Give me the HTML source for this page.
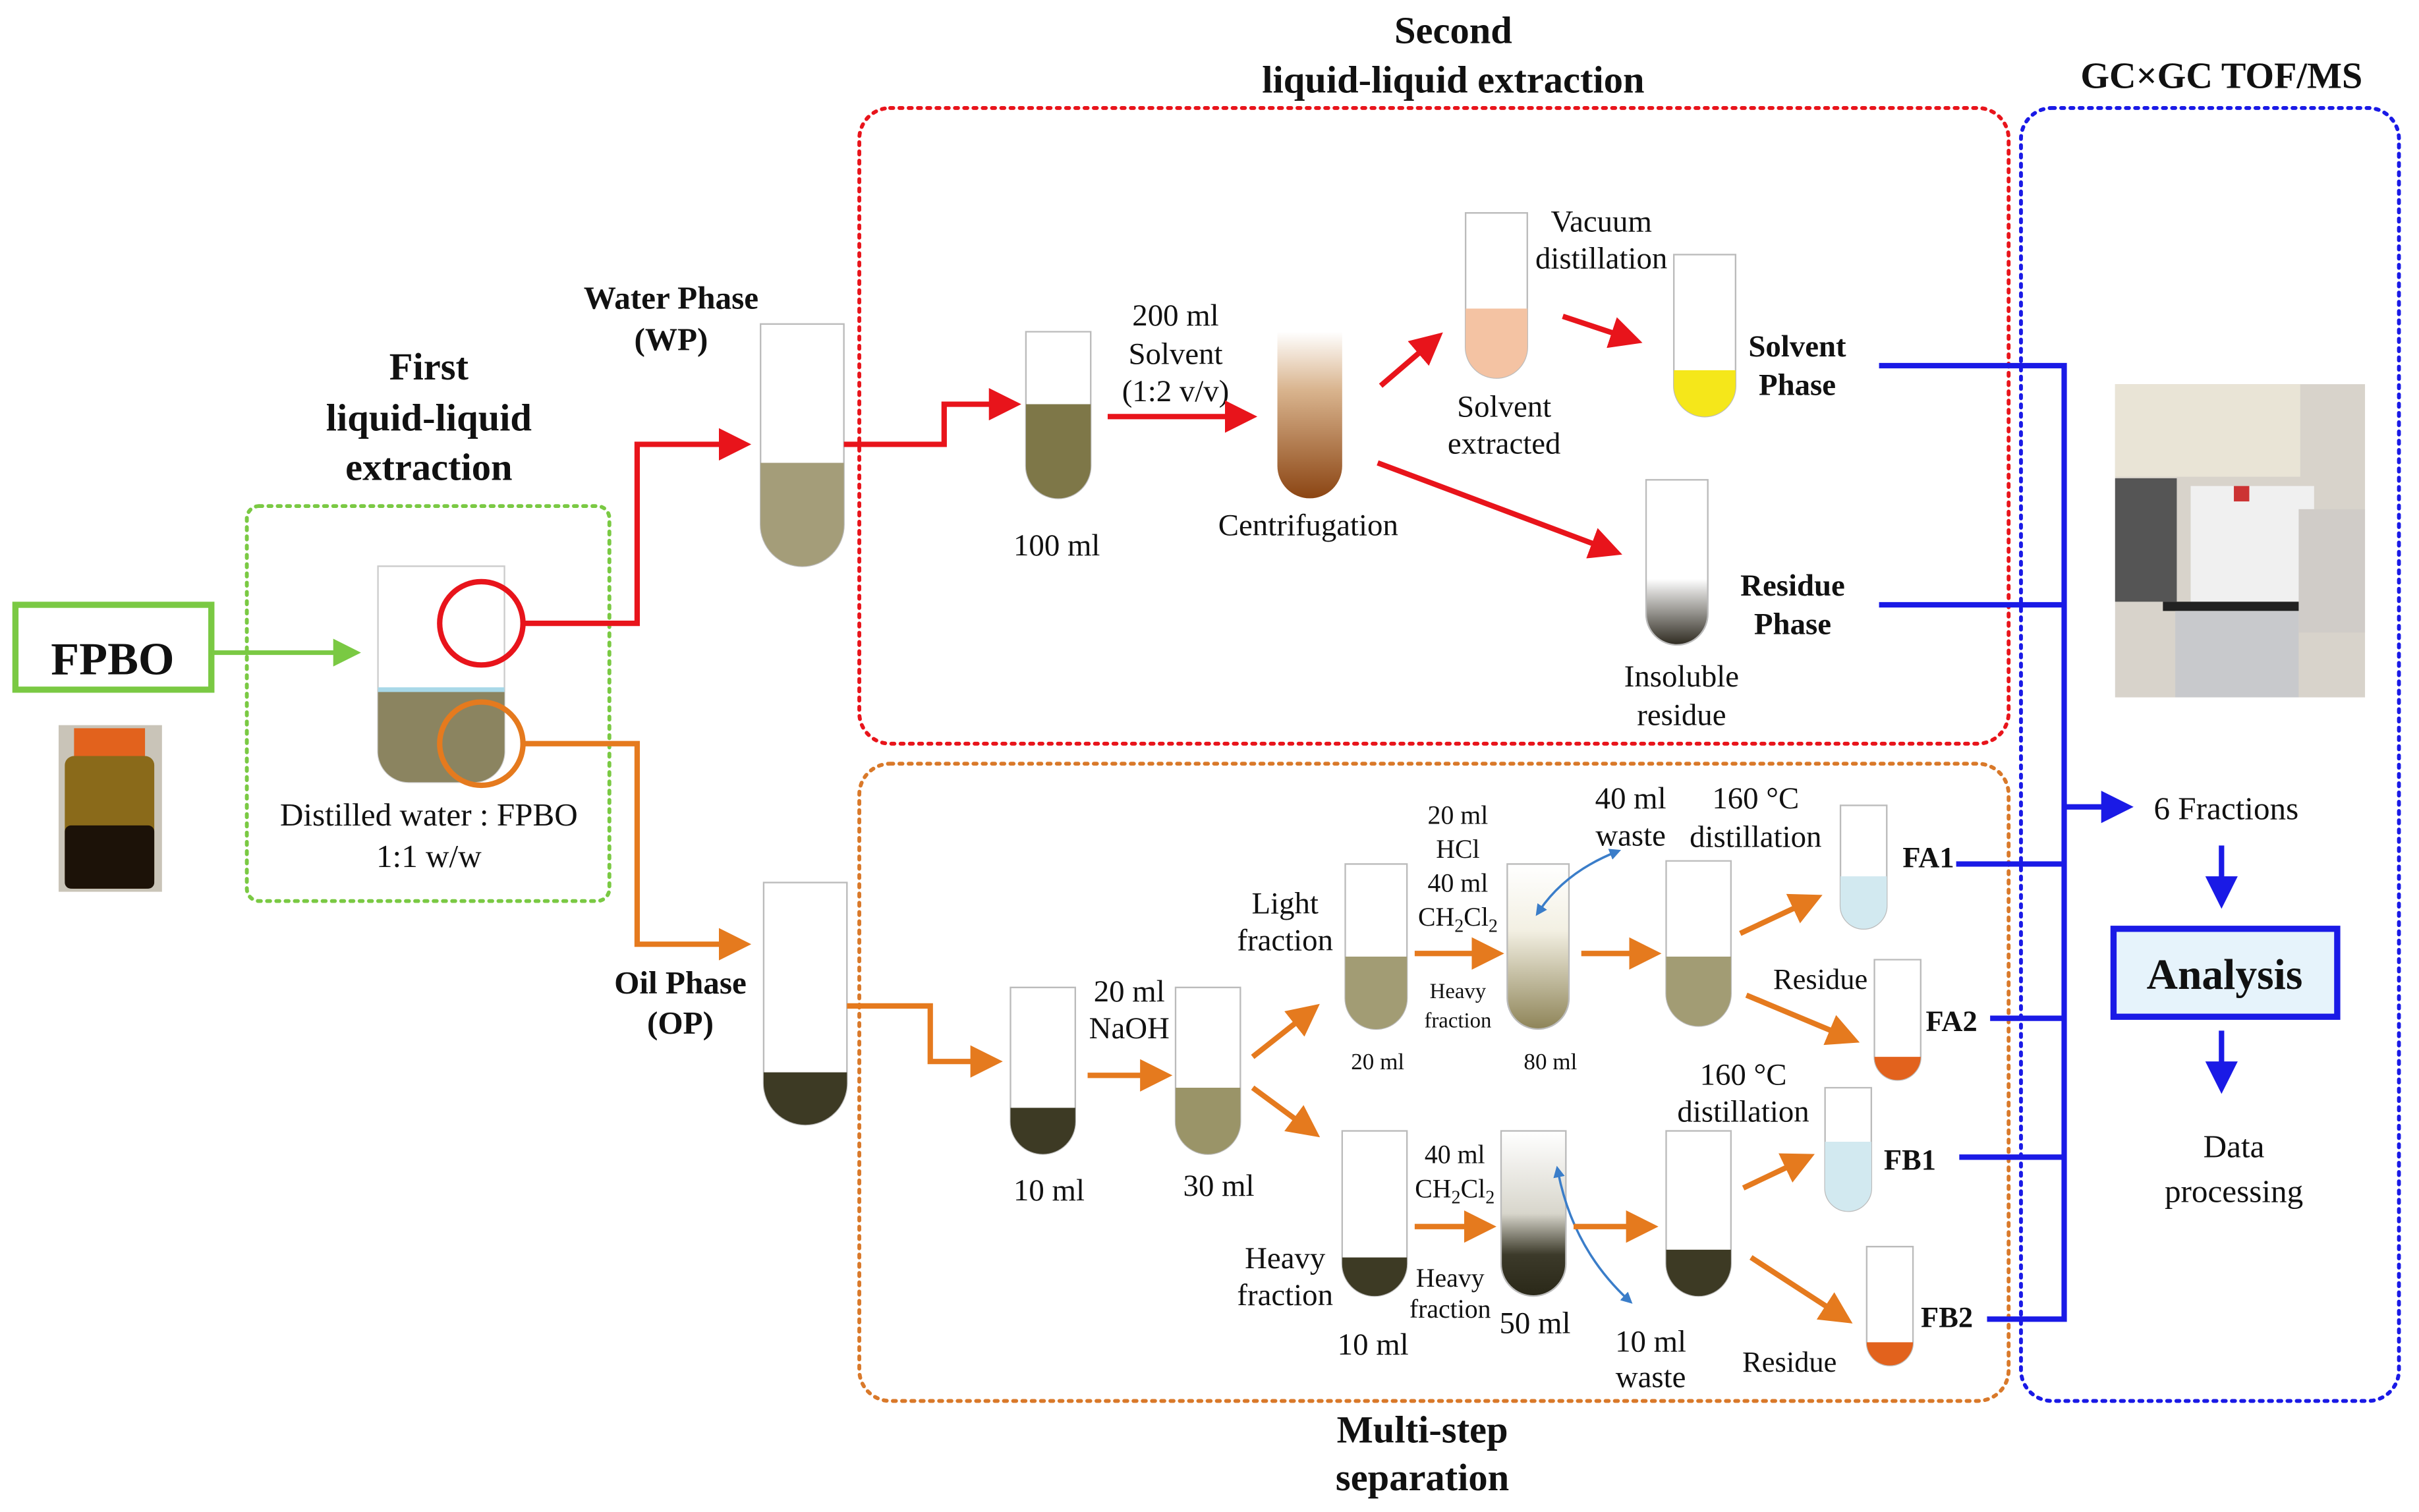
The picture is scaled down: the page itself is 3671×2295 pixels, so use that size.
<!DOCTYPE html>
<html><head><meta charset="utf-8"><style>
html,body{margin:0;padding:0;background:#fff}
svg{display:block}
text{font-family:"Liberation Serif",serif;fill:#111}
.b{font-weight:bold}
</style></head><body>
<svg width="3671" height="2295" viewBox="0 0 1568 980" preserveAspectRatio="none" xmlns="http://www.w3.org/2000/svg">
<defs>
<marker id="ar" markerWidth="6" markerHeight="6" refX="4" refY="3" orient="auto" markerUnits="strokeWidth"><path d="M0,0 L6,3 L0,6 z" fill="#e8141b"/></marker>
<marker id="ao" markerWidth="6" markerHeight="6" refX="4" refY="3" orient="auto" markerUnits="strokeWidth"><path d="M0,0 L6,3 L0,6 z" fill="#e57a1e"/></marker>
<marker id="ab" markerWidth="6" markerHeight="6" refX="4" refY="3" orient="auto" markerUnits="strokeWidth"><path d="M0,0 L6,3 L0,6 z" fill="#1a1ae6"/></marker>
<marker id="ag" markerWidth="6" markerHeight="6" refX="4" refY="3" orient="auto" markerUnits="strokeWidth"><path d="M0,0 L6,3 L0,6 z" fill="#7ac943"/></marker>
<marker id="al" markerWidth="5" markerHeight="5" refX="3" refY="2.5" orient="auto" markerUnits="strokeWidth"><path d="M0,0 L5,2.5 L0,5 z" fill="#3a7dc9"/></marker>
<marker id="als" markerWidth="5" markerHeight="5" refX="2" refY="2.5" orient="auto-start-reverse" markerUnits="strokeWidth"><path d="M0,0 L5,2.5 L0,5 z" fill="#3a7dc9"/></marker>
<linearGradient id="cent" x1="0" y1="0" x2="0" y2="1"><stop offset="0" stop-color="#fff"/><stop offset="0.35" stop-color="#d9b48e"/><stop offset="1" stop-color="#8b4513"/></linearGradient>
<linearGradient id="g80" x1="0" y1="0" x2="0" y2="1"><stop offset="0" stop-color="#fff"/><stop offset="0.4" stop-color="#f3f0e3"/><stop offset="1" stop-color="#8e8458"/></linearGradient>
<linearGradient id="g50" x1="0" y1="0" x2="0" y2="1"><stop offset="0" stop-color="#fff"/><stop offset="0.5" stop-color="#d8d6cc"/><stop offset="0.75" stop-color="#3c3a2a"/><stop offset="1" stop-color="#2a2818"/></linearGradient>
<linearGradient id="gres" x1="0" y1="0" x2="0" y2="1"><stop offset="0" stop-color="#fff"/><stop offset="0.6" stop-color="#fff"/><stop offset="1" stop-color="#2e2a20"/></linearGradient>
</defs>

<!-- dotted boxes -->
<rect x="160" y="328" width="235" height="256" rx="8" fill="none" stroke="#7ac943" stroke-width="2.5" stroke-dasharray="2,4" stroke-linecap="round"/>
<rect x="557" y="70" width="745" height="412" rx="20" fill="none" stroke="#e8141b" stroke-width="2.5" stroke-dasharray="2,4" stroke-linecap="round"/>
<rect x="557" y="495" width="745" height="413" rx="20" fill="none" stroke="#d9792a" stroke-width="2.5" stroke-dasharray="2,4" stroke-linecap="round"/>
<rect x="1310" y="70" width="245" height="838" rx="20" fill="none" stroke="#1a1ae6" stroke-width="2.5" stroke-dasharray="2,4" stroke-linecap="round"/>

<!-- titles -->
<text x="942" y="28" font-size="25" class="b" text-anchor="middle">Second</text>
<text x="942" y="60" font-size="25" class="b" text-anchor="middle">liquid-liquid extraction</text>
<text x="1440" y="57" font-size="24" class="b" text-anchor="middle">GC×GC TOF/MS</text>
<text x="922" y="935" font-size="25" class="b" text-anchor="middle">Multi-step</text>
<text x="922" y="966" font-size="25" class="b" text-anchor="middle">separation</text>
<text x="278" y="246" font-size="25" class="b" text-anchor="middle">First</text>
<text x="278" y="279" font-size="25" class="b" text-anchor="middle">liquid-liquid</text>
<text x="278" y="311" font-size="25" class="b" text-anchor="middle">extraction</text>

<!-- FPBO -->
<rect x="10" y="392" width="127" height="55" fill="#fff" stroke="#7ac943" stroke-width="4"/>
<text x="73" y="437" font-size="30" class="b" text-anchor="middle">FPBO</text>
<line x1="137" y1="423" x2="228" y2="423" stroke="#7ac943" stroke-width="3" marker-end="url(#ag)"/>
<rect x="38" y="470" width="67" height="108" fill="#c9c4b8"/>
<rect x="48" y="472" width="46" height="18" fill="#e2621d"/>
<rect x="42" y="490" width="58" height="86" rx="6" fill="#8a6a1a"/>
<rect x="42" y="535" width="58" height="41" rx="4" fill="#1c1208"/>

<!-- big tube -->
<path d="M245,367 h82 v120 a20,20 0 0 1 -20,20 h-42 a20,20 0 0 1 -20,-20 z" fill="#fff" stroke="#ccc"/>
<path d="M245,447 h82 v40 a20,20 0 0 1 -20,20 h-42 a20,20 0 0 1 -20,-20 z" fill="#8b8460"/>
<line x1="245" y1="447" x2="327" y2="447" stroke="#a8d8e8" stroke-width="3"/>
<circle cx="312" cy="404" r="27" fill="none" stroke="#e8141b" stroke-width="3.5"/>
<circle cx="312" cy="482" r="27" fill="none" stroke="#e57a1e" stroke-width="3.5"/>
<text x="278" y="535" font-size="21" text-anchor="middle">Distilled water : FPBO</text>
<text x="278" y="562" font-size="21" text-anchor="middle">1:1 w/w</text>

<polyline points="339,404 413,404 413,288 480,288" fill="none" stroke="#e8141b" stroke-width="3.5" marker-end="url(#ar)"/>
<polyline points="339,482 413,482 413,612 480,612" fill="none" stroke="#e57a1e" stroke-width="3.5" marker-end="url(#ao)"/>

<text x="435" y="200" font-size="21" class="b" text-anchor="middle">Water  Phase</text>
<text x="435" y="227" font-size="21" class="b" text-anchor="middle">(WP)</text>
<text x="441" y="644" font-size="21" class="b" text-anchor="middle">Oil Phase</text>
<text x="441" y="670" font-size="21" class="b" text-anchor="middle">(OP)</text>

<!-- WP / OP tubes -->
<path d="M493,210 h54 v130 a27,27 0 0 1 -54,0 z" fill="#fff" stroke="#bbb"/>
<path d="M493,300 h54 v40 a27,27 0 0 1 -54,0 z" fill="#a49d79"/>
<path d="M495,572 h54 v130 a27,27 0 0 1 -54,0 z" fill="#fff" stroke="#bbb"/>
<path d="M495,695 h54 v7 a27,27 0 0 1 -54,0 z" fill="#3d3a24"/>

<!-- upper flow -->
<polyline points="547,288 612,288 612,262 655,262" fill="none" stroke="#e8141b" stroke-width="3.5" marker-end="url(#ar)"/>
<path d="M665,215 h42 v87 a21,21 0 0 1 -42,0 z" fill="#fff" stroke="#bbb"/>
<path d="M665,262 h42 v40 a21,21 0 0 1 -42,0 z" fill="#7e7748"/>
<text x="685" y="360" font-size="20" text-anchor="middle">100 ml</text>
<text x="762" y="211" font-size="20" text-anchor="middle">200 ml</text>
<text x="762" y="236" font-size="20" text-anchor="middle">Solvent</text>
<text x="762" y="260" font-size="20" text-anchor="middle">(1:2 v/v)</text>
<line x1="718" y1="270" x2="808" y2="270" stroke="#e8141b" stroke-width="3.5" marker-end="url(#ar)"/>
<path d="M828,215 h42 v87 a21,21 0 0 1 -42,0 z" fill="url(#cent)"/>
<text x="848" y="347" font-size="20" text-anchor="middle">Centrifugation</text>
<line x1="895" y1="250" x2="930" y2="220" stroke="#e8141b" stroke-width="3.5" marker-end="url(#ar)"/>
<path d="M950,138 h40 v87 a20,20 0 0 1 -40,0 z" fill="#fff" stroke="#bbb"/>
<path d="M950,200 h40 v25 a20,20 0 0 1 -40,0 z" fill="#f4c3a3"/>
<text x="975" y="270" font-size="20" text-anchor="middle">Solvent</text>
<text x="975" y="294" font-size="20" text-anchor="middle">extracted</text>
<text x="1038" y="150" font-size="20" text-anchor="middle">Vacuum</text>
<text x="1038" y="174" font-size="20" text-anchor="middle">distillation</text>
<line x1="1013" y1="205" x2="1058" y2="220" stroke="#e8141b" stroke-width="3.5" marker-end="url(#ar)"/>
<path d="M1085,165 h40 v85 a20,20 0 0 1 -40,0 z" fill="#fff" stroke="#bbb"/>
<path d="M1085,240 h40 v10 a20,20 0 0 1 -40,0 z" fill="#f5e71a"/>
<text x="1165" y="231" font-size="20" class="b" text-anchor="middle">Solvent</text>
<text x="1165" y="256" font-size="20" class="b" text-anchor="middle">Phase</text>
<line x1="893" y1="300" x2="1045" y2="357" stroke="#e8141b" stroke-width="3.5" marker-end="url(#ar)"/>
<path d="M1067,311 h40 v87 a20,20 0 0 1 -40,0 z" fill="url(#gres)" stroke="#bbb"/>
<text x="1090" y="445" font-size="20" text-anchor="middle">Insoluble</text>
<text x="1090" y="470" font-size="20" text-anchor="middle">residue</text>
<text x="1162" y="386" font-size="20" class="b" text-anchor="middle">Residue</text>
<text x="1162" y="411" font-size="20" class="b" text-anchor="middle">Phase</text>

<!-- blue lines -->
<g stroke="#1a1ae6" stroke-width="3.5" fill="none">
<polyline points="1218,237 1338,237 1338,855 1288,855"/>
<line x1="1218" y1="392" x2="1338" y2="392"/>
<line x1="1268" y1="560" x2="1338" y2="560"/>
<line x1="1290" y1="660" x2="1338" y2="660"/>
<line x1="1270" y1="750" x2="1338" y2="750"/>
<line x1="1338" y1="523" x2="1376" y2="523" marker-end="url(#ab)"/>
<line x1="1440" y1="548" x2="1440" y2="582" marker-end="url(#ab)"/>
<line x1="1440" y1="668" x2="1440" y2="702" marker-end="url(#ab)"/>
</g>
<text x="1443" y="531" font-size="21" text-anchor="middle">6 Fractions</text>
<rect x="1370" y="602" width="145" height="57" fill="#e6f3fb" stroke="#1a1ae6" stroke-width="4"/>
<text x="1442" y="641" font-size="28" class="b" text-anchor="middle">Analysis</text>
<text x="1448" y="750" font-size="21" text-anchor="middle">Data</text>
<text x="1448" y="779" font-size="21" text-anchor="middle">processing</text>

<!-- photo -->
<rect x="1371" y="249" width="162" height="203" fill="#d8d3cb"/>
<rect x="1371" y="249" width="120" height="60" fill="#e9e4d6"/>
<rect x="1371" y="310" width="40" height="80" fill="#555"/>
<rect x="1420" y="315" width="80" height="80" fill="#f0f0f0"/>
<rect x="1402" y="390" width="100" height="6" fill="#222"/>
<rect x="1448" y="315" width="10" height="10" fill="#c33"/>
<rect x="1410" y="396" width="80" height="56" fill="#c8c9cc"/>
<rect x="1490" y="330" width="43" height="80" fill="#d0ccc8"/>

<!-- lower flow -->
<polyline points="549,652 603,652 603,688 643,688" fill="none" stroke="#e57a1e" stroke-width="3.5" marker-end="url(#ao)"/>
<path d="M655,640 h42 v87 a21,21 0 0 1 -42,0 z" fill="#fff" stroke="#bbb"/>
<path d="M655,718 h42 v9 a21,21 0 0 1 -42,0 z" fill="#3d3a24"/>
<text x="680" y="778" font-size="20" text-anchor="middle">10 ml</text>
<text x="732" y="649" font-size="20" text-anchor="middle">20 ml</text>
<text x="732" y="673" font-size="20" text-anchor="middle">NaOH</text>
<line x1="705" y1="697" x2="753" y2="697" stroke="#e57a1e" stroke-width="3.5" marker-end="url(#ao)"/>
<path d="M762,640 h42 v87 a21,21 0 0 1 -42,0 z" fill="#fff" stroke="#bbb"/>
<path d="M762,705 h42 v22 a21,21 0 0 1 -42,0 z" fill="#9a9468"/>
<text x="790" y="775" font-size="20" text-anchor="middle">30 ml</text>
<line x1="812" y1="685" x2="850" y2="655" stroke="#e57a1e" stroke-width="3.5" marker-end="url(#ao)"/>
<line x1="812" y1="705" x2="850" y2="733" stroke="#e57a1e" stroke-width="3.5" marker-end="url(#ao)"/>

<!-- light fraction row -->
<path d="M872,560 h40 v87 a20,20 0 0 1 -40,0 z" fill="#fff" stroke="#bbb"/>
<path d="M872,620 h40 v27 a20,20 0 0 1 -40,0 z" fill="#a29c74"/>
<text x="833" y="592" font-size="20" text-anchor="middle">Light</text>
<text x="833" y="616" font-size="20" text-anchor="middle">fraction</text>
<text x="893" y="693" font-size="15" text-anchor="middle">20 ml</text>
<text x="945" y="534" font-size="17" text-anchor="middle">20 ml</text>
<text x="945" y="556" font-size="17" text-anchor="middle">HCl</text>
<text x="945" y="578" font-size="17" text-anchor="middle">40 ml</text>
<text x="945" y="600" font-size="17" text-anchor="middle">CH<tspan font-size="12" dy="4">2</tspan><tspan dy="-4">Cl</tspan><tspan font-size="12" dy="4">2</tspan></text>
<text x="945" y="647" font-size="14" text-anchor="middle">Heavy</text>
<text x="945" y="666" font-size="14" text-anchor="middle">fraction</text>
<line x1="917" y1="618" x2="968" y2="618" stroke="#e57a1e" stroke-width="3.5" marker-end="url(#ao)"/>
<path d="M977,560 h40 v87 a20,20 0 0 1 -40,0 z" fill="url(#g80)" stroke="#bbb"/>
<text x="1005" y="693" font-size="15" text-anchor="middle">80 ml</text>
<path d="M998,590 Q1015,565 1048,552" fill="none" stroke="#3a7dc9" stroke-width="1.5" marker-start="url(#als)" marker-end="url(#al)"/>
<text x="1057" y="524" font-size="20" text-anchor="middle">40 ml</text>
<text x="1057" y="548" font-size="20" text-anchor="middle">waste</text>
<line x1="1025" y1="618" x2="1070" y2="618" stroke="#e57a1e" stroke-width="3.5" marker-end="url(#ao)"/>
<path d="M1080,558 h42 v86 a21,21 0 0 1 -42,0 z" fill="#fff" stroke="#bbb"/>
<path d="M1080,620 h42 v24 a21,21 0 0 1 -42,0 z" fill="#a29c74"/>
<text x="1138" y="524" font-size="20" text-anchor="middle">160 °C</text>
<text x="1138" y="549" font-size="20" text-anchor="middle">distillation</text>
<line x1="1128" y1="605" x2="1175" y2="583" stroke="#e57a1e" stroke-width="3.5" marker-end="url(#ao)"/>
<line x1="1132" y1="645" x2="1199" y2="673" stroke="#e57a1e" stroke-width="3.5" marker-end="url(#ao)"/>
<path d="M1193,522 h30 v65 a15,15 0 0 1 -30,0 z" fill="#fff" stroke="#bbb"/>
<path d="M1193,568 h30 v19 a15,15 0 0 1 -30,0 z" fill="#d2e9f0"/>
<text x="1250" y="562" font-size="19" class="b" text-anchor="middle">FA1</text>
<text x="1180" y="641" font-size="19" text-anchor="middle">Residue</text>
<path d="M1215,622 h30 v63 a15,15 0 0 1 -30,0 z" fill="#fff" stroke="#bbb"/>
<path d="M1215,685 h30 a15,15 0 0 1 -30,0 z" fill="#e2621d"/>
<text x="1265" y="668" font-size="19" class="b" text-anchor="middle">FA2</text>

<!-- heavy fraction row -->
<path d="M870,733 h42 v86 a21,21 0 0 1 -42,0 z" fill="#fff" stroke="#bbb"/>
<path d="M870,815 h42 v4 a21,21 0 0 1 -42,0 z" fill="#3d3a24"/>
<text x="833" y="822" font-size="20" text-anchor="middle">Heavy</text>
<text x="833" y="846" font-size="20" text-anchor="middle">fraction</text>
<text x="890" y="878" font-size="20" text-anchor="middle">10 ml</text>
<text x="943" y="754" font-size="17" text-anchor="middle">40 ml</text>
<text x="943" y="776" font-size="17" text-anchor="middle">CH<tspan font-size="12" dy="4">2</tspan><tspan dy="-4">Cl</tspan><tspan font-size="12" dy="4">2</tspan></text>
<text x="940" y="834" font-size="17" text-anchor="middle">Heavy</text>
<text x="940" y="854" font-size="17" text-anchor="middle">fraction</text>
<line x1="917" y1="795" x2="963" y2="795" stroke="#e57a1e" stroke-width="3.5" marker-end="url(#ao)"/>
<path d="M973,733 h42 v86 a21,21 0 0 1 -42,0 z" fill="url(#g50)" stroke="#bbb"/>
<text x="995" y="864" font-size="20" text-anchor="middle">50 ml</text>
<path d="M1010,760 Q1020,810 1056,843" fill="none" stroke="#3a7dc9" stroke-width="1.5" marker-start="url(#als)" marker-end="url(#al)"/>
<text x="1070" y="876" font-size="20" text-anchor="middle">10 ml</text>
<text x="1070" y="899" font-size="20" text-anchor="middle">waste</text>
<line x1="1020" y1="795" x2="1068" y2="795" stroke="#e57a1e" stroke-width="3.5" marker-end="url(#ao)"/>
<path d="M1080,733 h42 v86 a21,21 0 0 1 -42,0 z" fill="#fff" stroke="#bbb"/>
<path d="M1080,810 h42 v9 a21,21 0 0 1 -42,0 z" fill="#3d3a24"/>
<text x="1130" y="703" font-size="20" text-anchor="middle">160 °C</text>
<text x="1130" y="727" font-size="20" text-anchor="middle">distillation</text>
<line x1="1130" y1="770" x2="1170" y2="751" stroke="#e57a1e" stroke-width="3.5" marker-end="url(#ao)"/>
<line x1="1135" y1="815" x2="1195" y2="854" stroke="#e57a1e" stroke-width="3.5" marker-end="url(#ao)"/>
<path d="M1183,705 h30 v65 a15,15 0 0 1 -30,0 z" fill="#fff" stroke="#bbb"/>
<path d="M1183,740 h30 v30 a15,15 0 0 1 -30,0 z" fill="#d2e9f0"/>
<text x="1238" y="758" font-size="19" class="b" text-anchor="middle">FB1</text>
<text x="1160" y="889" font-size="19" text-anchor="middle">Residue</text>
<path d="M1210,808 h30 v62 a15,15 0 0 1 -30,0 z" fill="#fff" stroke="#bbb"/>
<path d="M1210,870 h30 a15,15 0 0 1 -30,0 z" fill="#e2621d"/>
<text x="1262" y="860" font-size="19" class="b" text-anchor="middle">FB2</text>
</svg>
</body></html>
